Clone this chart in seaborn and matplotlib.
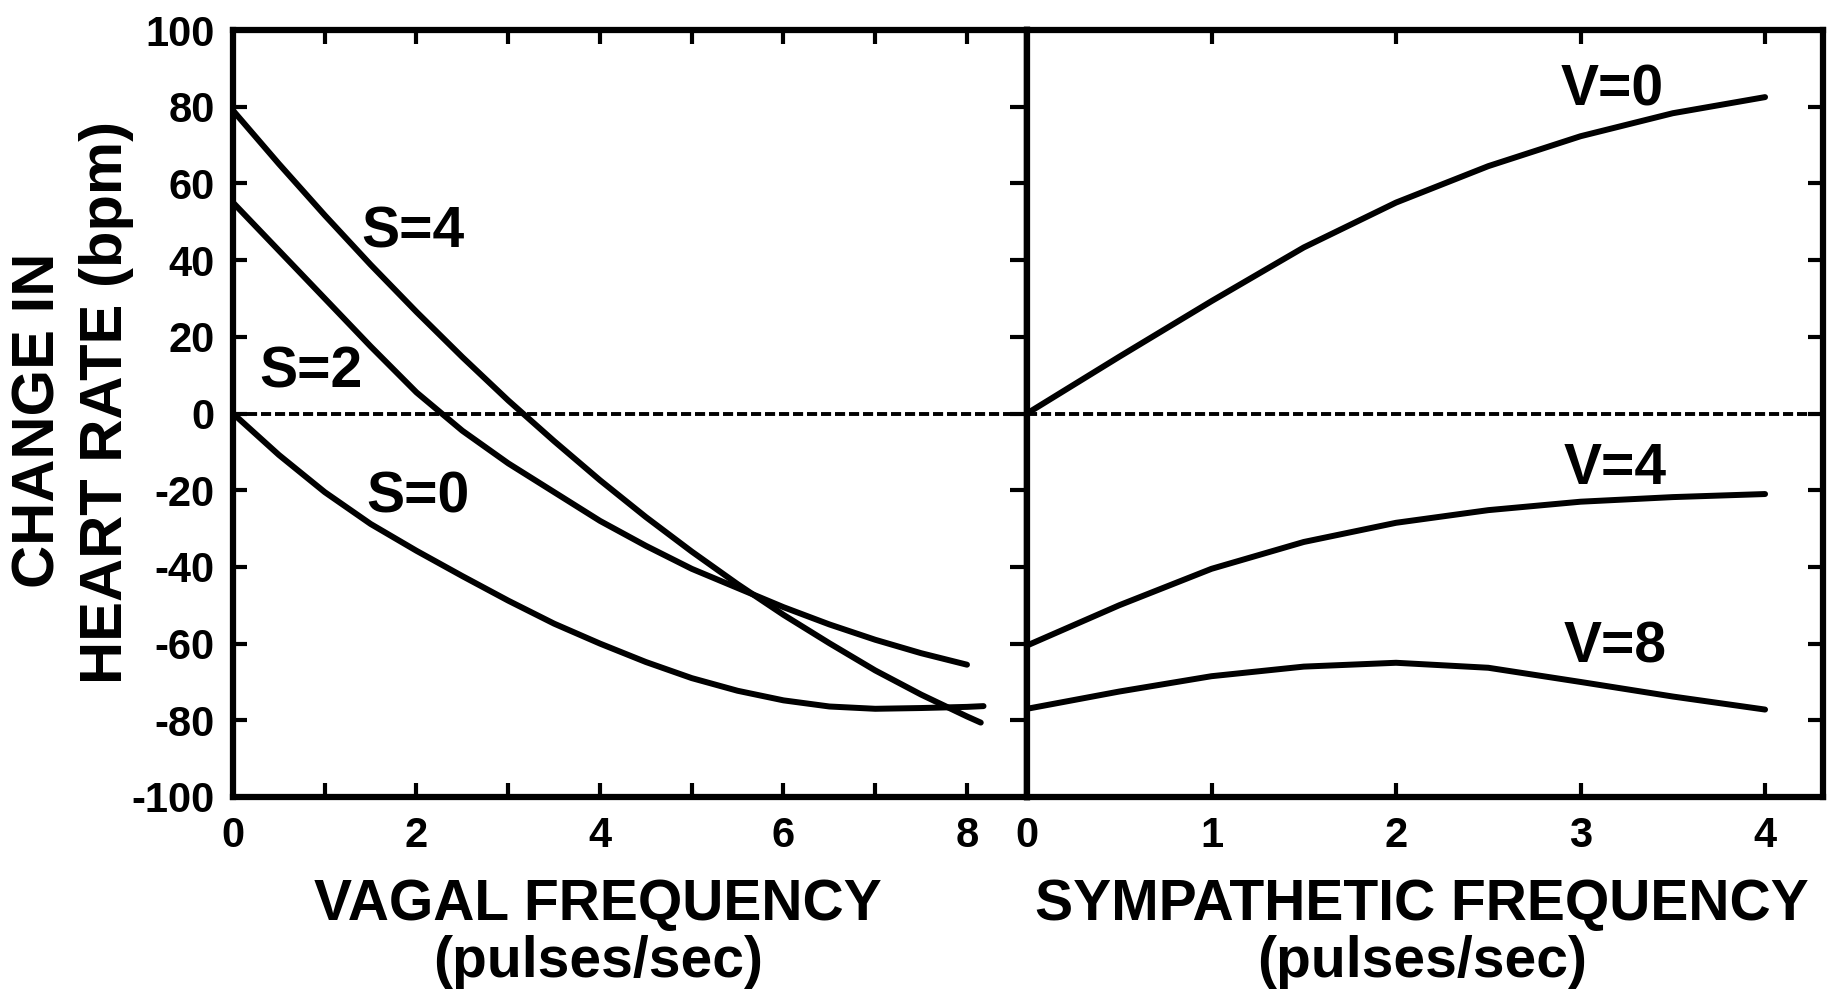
import matplotlib
matplotlib.use("Agg")
import matplotlib.pyplot as plt
import seaborn as sns
import pandas as pd
from matplotlib import font_manager

# values
vagal_s0_x = [0, 0.5, 1, 1.5, 2, 2.5, 3, 3.5, 4, 4.5, 5, 5.5, 6, 6.5, 7, 7.5, 8, 8.18]
vagal_s0_y = [0, -10.8, -20.5, -28.8, -35.8, -42.4, -48.8, -54.8, -60, -64.8, -69, -72.3, -74.8, -76.4, -77, -76.8, -76.5, -76.3]
vagal_s2_x = [0, 0.5, 1, 1.5, 2, 2.5, 3, 3.5, 4, 4.5, 5, 5.5, 6, 6.5, 7, 7.5, 8]
vagal_s2_y = [55, 42.5, 30, 17.5, 5.5, -4.5, -13, -20.5, -28, -34.5, -40.5, -45.5, -50.5, -55, -59, -62.5, -65.5]
vagal_s4_x = [0, 0.5, 1, 1.5, 2, 2.5, 3, 3.5, 4, 4.5, 5, 5.5, 6, 6.5, 7, 7.5, 8, 8.15]
vagal_s4_y = [79, 65.1, 51.7, 38.8, 26.5, 14.7, 3.4, -7.2, -17.4, -27, -36, -44.5, -52.5, -59.9, -67, -73.3, -79, -80.6]

symp_x = [0, 0.5, 1, 1.5, 2, 2.5, 3, 3.5, 4]
symp_v0 = [0, 14.8, 29.3, 43.3, 55, 64.5, 72.3, 78.3, 82.5]
symp_v4 = [-60.5, -50, -40.5, -33.5, -28.5, -25.2, -23, -21.8, -21]
symp_v8 = [-77, -72.5, -68.5, -66, -65, -66.3, -70, -73.8, -77.2]

vagal_ticks = [0, 1, 2, 3, 4, 5, 6, 7, 8]
vagal_ticklabels = ["0", "", "2", "", "4", "", "6", "", "8"]
symp_ticks = [0, 1, 2, 3, 4]
symp_ticklabels = ["0", "1", "2", "3", "4"]
hr_ticks = [-100, -80, -60, -40, -20, 0, 20, 40, 60, 80, 100]

sns.set_theme(style="ticks", rc={"text.color": "black", "axes.labelcolor": "black",
                                 "xtick.color": "black", "ytick.color": "black",
                                 "axes.edgecolor": "black"})
plt.rcParams["font.family"] = ["Liberation Sans", "DejaVu Sans"]
plt.rcParams["font.weight"] = "bold"

# a narrow face matches the squeezed lettering of the scan, if one is there
names = {f.name for f in font_manager.fontManager.ttflist}
narrow = next((n for n in ["Liberation Sans Narrow", "Arial Narrow"] if n in names), None)
if narrow:
    tick_font = dict(family=[narrow, "DejaVu Sans"], size=32, weight="bold", color="black")
    xlab_font = dict(family=[narrow, "DejaVu Sans"], size=48, weight="bold", color="black")
else:
    tick_font = dict(family=["Liberation Sans", "DejaVu Sans"], size=30, weight="bold", color="black")
    xlab_font = dict(family=["Liberation Sans", "DejaVu Sans"], size=41, weight="bold", color="black")

W, H = 1831, 992
fig = plt.figure(figsize=(W / 100, H / 100), dpi=100)
ax1 = fig.add_axes([233 / W, 1 - 797 / H, 794 / W, 767 / H])
ax2 = fig.add_axes([1027 / W, 1 - 797 / H, 796 / W, 767 / H])

df_vagal = pd.concat([
    pd.DataFrame({"freq": vagal_s0_x, "dhr": vagal_s0_y, "curve": "S=0"}),
    pd.DataFrame({"freq": vagal_s2_x, "dhr": vagal_s2_y, "curve": "S=2"}),
    pd.DataFrame({"freq": vagal_s4_x, "dhr": vagal_s4_y, "curve": "S=4"}),
])
df_symp = pd.concat([
    pd.DataFrame({"freq": symp_x, "dhr": symp_v0, "curve": "V=0"}),
    pd.DataFrame({"freq": symp_x, "dhr": symp_v4, "curve": "V=4"}),
    pd.DataFrame({"freq": symp_x, "dhr": symp_v8, "curve": "V=8"}),
])

for ax, df in [(ax1, df_vagal), (ax2, df_symp)]:
    ax.axhline(0, color="black", lw=2.8, ls=(0, (2.6, 1.0)), zorder=1)
    sns.lineplot(data=df, x="freq", y="dhr", hue="curve",
                 palette={c: "black" for c in df["curve"].unique()},
                 legend=False, estimator=None, lw=4.3, ax=ax, zorder=3,
                 solid_capstyle="round", solid_joinstyle="round")
    ax.set_xlabel("")
    ax.set_ylabel("")
    ax.set_ylim(-100, 100)
    ax.set_yticks(hr_ticks)
    for sp in ax.spines.values():
        sp.set_visible(True)
        sp.set_color("black")
        sp.set_linewidth(4.5)

# left panel
ax1.set_xlim(0, 8.654)
ax1.set_xticks(vagal_ticks)
ax1.set_xticklabels(vagal_ticklabels)
ax1.set_yticklabels([str(t) for t in hr_ticks])
ax1.tick_params(axis="x", direction="in", top=True, bottom=True, length=10,
                width=3, pad=14, color="black")
ax1.tick_params(axis="y", direction="in", left=True, right=False, length=10,
                width=3, pad=13, color="black")
for lab in ax1.get_xticklabels() + ax1.get_yticklabels():
    lab.set(**tick_font)

# ticks crossing the shared middle axis
mid = ax1.secondary_yaxis("right")
mid.set_yticks(hr_ticks)
mid.tick_params(direction="inout", length=24, width=3, labelright=False, color="black")
mid.spines["right"].set_linewidth(4.5)
mid.spines["right"].set_color("black")

# right panel
ax2.set_xlim(0, 4.314)
ax2.set_xticks(symp_ticks)
ax2.set_xticklabels(symp_ticklabels)
ax2.tick_params(axis="x", direction="in", top=True, bottom=True, length=10,
                width=3, pad=14, color="black")
ax2.tick_params(axis="y", direction="in", left=False, right=True, length=11,
                width=3, labelleft=False, labelright=False, color="black")
for lab in ax2.get_xticklabels():
    lab.set(**tick_font)

# curve labels
lab_kw = dict(ha="center", va="baseline", fontsize=41, fontweight="bold", color="black")
ax1.text(1.96, 43.3, "S=4", **lab_kw)
ax1.text(0.85, 6.8, "S=2", **lab_kw)
ax1.text(2.02, -25.8, "S=0", **lab_kw)
ax2.text(3.17, 80.3, "V=0", **lab_kw)
ax2.text(3.19, -18.3, "V=4", **lab_kw)
ax2.text(3.19, -64.9, "V=8", **lab_kw)

# axis titles
fig.text(598 / W, 1 - 920 / H, "VAGAL FREQUENCY", ha="center", va="baseline", **xlab_font)
fig.text(598 / W, 1 - 977 / H, "(pulses/sec)", ha="center", va="baseline", **xlab_font)
fig.text(1422 / W, 1 - 920 / H, "SYMPATHETIC FREQUENCY", ha="center", va="baseline", **xlab_font)
fig.text(1422 / W, 1 - 977 / H, "(pulses/sec)", ha="center", va="baseline", **xlab_font)

ylab_kw = dict(rotation=90, rotation_mode="anchor", ha="center", va="baseline",
               fontsize=43, fontweight="bold", color="black")
fig.text(55 / W, 1 - 420 / H, "CHANGE IN", **ylab_kw)
fig.text(122 / W, 1 - 402 / H, "HEART RATE (bpm)", **ylab_kw)

fig.savefig("out.png", dpi=100, facecolor="white")
